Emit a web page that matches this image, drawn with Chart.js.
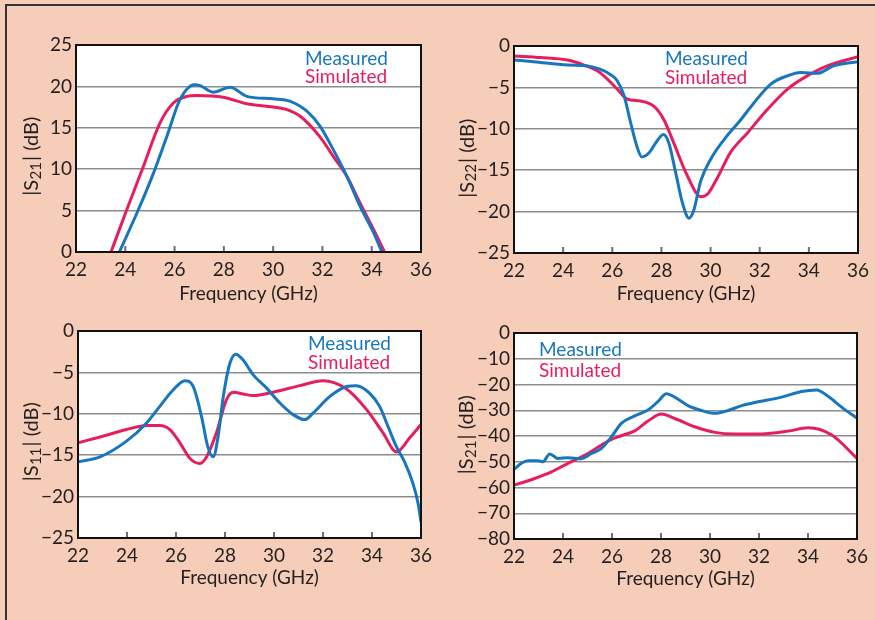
<!DOCTYPE html>
<html>
<head>
<meta charset="utf-8">
<script src="https://cdn.jsdelivr.net/npm/chart.js@4.4.1/dist/chart.umd.min.js"></script>
<style>
  html, body { margin: 0; padding: 0; overflow: hidden; }
  body { width: 875px; height: 620px; position: relative; background: #f5cdb9; }
  .rule { position: absolute; background: #333; }
  .cell { position: absolute; }
</style>
</head>
<body>
<div class="rule" style="left:5px;top:4px;width:870px;height:2px"></div>
<div class="rule" style="left:5px;top:4px;width:2px;height:616px"></div>
<div class="cell" style="left:8px;top:6px"><canvas id="c1" width="429" height="304"></canvas></div>
<div class="cell" style="left:437px;top:6px"><canvas id="c2" width="438" height="304"></canvas></div>
<div class="cell" style="left:8px;top:310px"><canvas id="c3" width="429" height="310"></canvas></div>
<div class="cell" style="left:437px;top:310px"><canvas id="c4" width="438" height="310"></canvas></div>
<script>
// x axis ticks (GHz), shared by all panels
const freqTicks = [22, 24, 26, 28, 30, 32, 34, 36];

// top left: |S21| gain
const s21Ticks = [0, 5, 10, 15, 20, 25];
const s21MeasFreq = [23.76, 24.53, 25.14, 25.68, 26.22, 26.8, 27.04, 27.58, 28.25, 28.93, 30.0, 30.7, 31.37, 31.9, 32.45, 33.0, 33.53, 34.08, 34.41];
const s21MeasDb   = [0, 5.1, 9.5, 13.9, 18.4, 20.2, 20.1, 19.3, 19.9, 18.8, 18.5, 18.2, 17.0, 15.2, 12.3, 9.1, 5.5, 2.3, 0];
const s21SimFreq  = [23.42, 24.06, 24.73, 25.41, 25.95, 26.5, 26.9, 27.98, 28.93, 30.0, 30.56, 31.1, 31.9, 32.45, 33.0, 33.53, 34.08, 34.52];
const s21SimDb    = [0, 5.1, 10.3, 15.6, 18.0, 18.8, 18.9, 18.7, 17.9, 17.5, 17.2, 16.4, 13.9, 11.5, 9.1, 5.9, 2.7, 0];

// top right: |S22|
const s22Ticks = [-25, -20, -15, -10, -5, 0];
const s22MeasFreq = [22, 22.8, 24.17, 24.98, 25.5, 25.9, 26.2, 26.48, 26.75, 27.0, 27.2, 27.5, 27.77, 28.08, 28.3, 28.58, 28.85, 29.12, 29.32, 29.6, 30.0, 30.55, 31.23, 31.77, 32.45, 33.13, 33.67, 34.35, 35.0, 36];
const s22MeasDb   = [-1.7, -1.9, -2.3, -2.4, -2.8, -3.4, -4.2, -6.0, -9.3, -12.1, -13.4, -12.9, -11.7, -10.7, -11.7, -15.3, -18.9, -20.8, -19.8, -16.3, -13.7, -11.3, -8.9, -6.85, -4.6, -3.6, -3.2, -3.3, -2.4, -1.9];
const s22SimFreq  = [22, 23.09, 24.17, 24.85, 25.39, 25.8, 26.2, 26.6, 27.16, 27.7, 28.1, 28.5, 29.06, 29.6, 29.87, 30.28, 30.8, 31.5, 32.3, 33.13, 33.94, 34.75, 36];
const s22SimDb    = [-1.2, -1.4, -1.7, -2.3, -3.0, -4.0, -5.2, -6.4, -6.65, -7.3, -8.9, -11.7, -15.7, -18.2, -17.9, -15.9, -12.9, -10.5, -7.7, -5.2, -3.6, -2.4, -1.3];

// bottom left: |S11|
const s11Ticks = [-25, -20, -15, -10, -5, 0];
const s11MeasFreq = [22, 22.9, 23.98, 24.8, 25.34, 25.89, 26.36, 26.7, 27.04, 27.3, 27.52, 27.72, 27.93, 28.2, 28.44, 28.74, 29.15, 29.7, 30.24, 30.78, 31.26, 31.6, 32.28, 32.96, 33.36, 33.9, 34.31, 34.65, 35.0, 35.33, 35.67, 35.88, 36];
const s11MeasDb   = [-15.8, -15.2, -13.3, -11.1, -9.1, -7.1, -6.0, -6.7, -10.3, -14.0, -15.2, -12.7, -7.9, -3.9, -2.8, -3.5, -5.3, -6.9, -8.7, -10.1, -10.7, -9.9, -7.9, -6.7, -6.6, -7.5, -9.1, -11.5, -14.0, -15.8, -18.4, -20.8, -23.1];
const s11SimFreq  = [22, 22.9, 23.98, 24.8, 25.34, 25.75, 26.16, 26.57, 26.98, 27.25, 27.65, 28.06, 28.33, 28.74, 29.15, 29.96, 31.05, 32.0, 32.96, 33.78, 34.45, 35.0, 35.54, 36];
const s11SimDb    = [-13.5, -12.8, -11.9, -11.4, -11.4, -11.9, -13.5, -15.4, -16.0, -15.2, -12.3, -8.3, -7.4, -7.6, -7.8, -7.4, -6.6, -6.0, -7.0, -9.5, -12.3, -14.6, -12.9, -11.3];

// bottom right: |S21| isolation
const isoTicks = [-80, -70, -60, -50, -40, -30, -20, -10, 0];
const isoMeasFreq = [22, 22.3, 22.57, 22.98, 23.18, 23.46, 23.8, 24.2, 24.75, 25.16, 25.57, 25.98, 26.38, 26.93, 27.47, 27.88, 28.22, 28.56, 29.1, 29.65, 30.2, 30.74, 31.29, 31.83, 32.92, 33.74, 34.35, 34.83, 35.37, 36];
const isoMeasDb   = [-53, -50.6, -49.6, -49.6, -50, -47, -48.7, -48.4, -48.8, -46.8, -44.8, -40.3, -35.1, -32.2, -29.9, -26.6, -23.6, -24.9, -28.2, -30.1, -31.2, -30.1, -28.2, -27.0, -24.9, -22.7, -22.1, -24.7, -28.8, -33.1];
const isoSimFreq  = [22, 22.84, 23.53, 24.2, 25.02, 25.57, 25.98, 26.38, 26.93, 27.47, 28.02, 28.56, 29.38, 30.2, 31.0, 32.1, 33.2, 34.0, 34.97, 36];
const isoSimDb    = [-59.1, -56.5, -53.9, -50.6, -46.8, -43.5, -41.3, -39.9, -38.0, -34.2, -31.5, -33.2, -36.4, -38.6, -39.2, -39.2, -38.1, -36.8, -39.6, -48.7];

const BLUE = '#1776bd';
const PINK = '#e61e5f';
const INK = '#231f20';
const FONT = 'Lato';
const TICK_SIZE = 19;

const pts = (xs, ys) => xs.map((x, i) => ({ x: x, y: ys[i] }));

// white plot box, black frame, inner x tick marks, coloured text legend, y title with subscript
const panelDecor = {
  id: 'panelDecor',
  beforeDraw(chart) {
    const a = chart.chartArea, ctx = chart.ctx;
    ctx.save();
    ctx.fillStyle = '#fff';
    ctx.fillRect(a.left, a.top, a.right - a.left, a.bottom - a.top);
    ctx.restore();
  },
  afterDraw(chart, args, opts) {
    const a = chart.chartArea, ctx = chart.ctx, xs = chart.scales.x;
    ctx.save();
    ctx.strokeStyle = '#6f6f6f';
    ctx.lineWidth = 2;
    xs.ticks.forEach(t => {
      if (t.value === xs.min || t.value === xs.max) return;
      const px = xs.getPixelForValue(t.value);
      ctx.beginPath();
      ctx.moveTo(px, a.bottom);
      ctx.lineTo(px, a.bottom - 6);
      ctx.stroke();
    });
    ctx.strokeStyle = '#111';
    ctx.lineWidth = 2;
    ctx.strokeRect(a.left, a.top, a.right - a.left, a.bottom - a.top);

    ctx.font = '19px ' + FONT;
    ctx.textAlign = 'left';
    ctx.textBaseline = 'alphabetic';
    chart.data.datasets.forEach((d, i) => {
      ctx.fillStyle = d.borderColor;
      ctx.fillText(d.label, a.left + opts.legendX, a.top + opts.legendY[i]);
    });

    const p = opts.yTitle;
    const big = '20px ' + FONT, small = '15px ' + FONT;
    ctx.font = big;
    const w1 = ctx.measureText(p[0]).width, w3 = ctx.measureText(p[2]).width;
    ctx.font = small;
    const w2 = ctx.measureText(p[1]).width + 1;
    ctx.translate(a.left - opts.titleDx, (a.top + a.bottom) / 2 + opts.titleDy);
    ctx.rotate(-Math.PI / 2);
    ctx.fillStyle = INK;
    ctx.textBaseline = 'middle';
    let x = -(w1 + w2 + w3) / 2;
    ctx.font = big;   ctx.fillText(p[0], x, 0); x += w1 + 0.5;
    ctx.font = small; ctx.fillText(p[1], x, 4); x += w2;
    ctx.font = big;   ctx.fillText(p[2], x, 0);
    ctx.restore();
  }
};

function panel(id, cfg) {
  new Chart(document.getElementById(id), {
    type: 'line',
    data: {
      datasets: [
        { label: 'Measured', data: pts(cfg.measF, cfg.measY), borderColor: BLUE },
        { label: 'Simulated', data: pts(cfg.simF, cfg.simY), borderColor: PINK }
      ]
    },
    options: {
      responsive: false,
      animation: false,
      events: [],
      layout: { padding: { left: 0, top: cfg.padTop, right: cfg.padRight, bottom: 0 } },
      elements: {
        point: { radius: 0 },
        line: { borderWidth: 3, cubicInterpolationMode: 'monotone', fill: false }
      },
      scales: {
        x: {
          type: 'linear',
          min: 22,
          max: 36,
          afterBuildTicks: s => { s.ticks = freqTicks.map(v => ({ value: v })); },
          afterFit: s => { s.height = cfg.xH; },
          grid: { display: false },
          border: { display: false },
          ticks: { color: INK, font: { family: FONT, size: TICK_SIZE }, padding: -2, maxRotation: 0, autoSkip: false },
          title: {
            display: true,
            text: 'Frequency (GHz)',
            color: INK,
            font: { family: FONT, size: 19, lineHeight: 1.2 },
            padding: { top: 0, bottom: cfg.titlePad }
          }
        },
        y: {
          min: cfg.yTicks[0],
          max: cfg.yTicks[cfg.yTicks.length - 1],
          afterBuildTicks: s => { s.ticks = cfg.yTicks.map(v => ({ value: v })); },
          afterFit: s => { s.width = cfg.yW; },
          grid: { color: '#8c8c8c', lineWidth: 1.5, drawTicks: false },
          border: { display: false },
          ticks: {
            color: INK,
            font: { family: FONT, size: TICK_SIZE },
            padding: 4,
            autoSkip: false,
            callback: v => String(v).replace('-', '\u2212')
          }
        }
      },
      plugins: {
        legend: { display: false },
        tooltip: { enabled: false },
        panelDecor: {
          legendX: cfg.legendX,
          legendY: cfg.legendY,
          yTitle: cfg.yTitle,
          titleDx: cfg.titleDx,
          titleDy: cfg.titleDy
        }
      }
    },
    plugins: [panelDecor]
  });
}

panel('c1', {
  measF: s21MeasFreq, measY: s21MeasDb, simF: s21SimFreq, simY: s21SimDb, yTicks: s21Ticks,
  yW: 68, padTop: 39, padRight: 16, xH: 58, titlePad: 5,
  legendX: 229, legendY: [20, 38.3], yTitle: ['|S', '21', '| (dB)'], titleDx: 44, titleDy: 8
});
panel('c2', {
  measF: s22MeasFreq, measY: s22MeasDb, simF: s22SimFreq, simY: s22SimDb, yTicks: s22Ticks,
  yW: 77, padTop: 40, padRight: 17, xH: 57, titlePad: 5,
  legendX: 151, legendY: [19, 37.5], yTitle: ['|S', '22', '| (dB)'], titleDx: 46.5, titleDy: 9
});
panel('c3', {
  measF: s11MeasFreq, measY: s11MeasDb, simF: s11SimFreq, simY: s11SimDb, yTicks: s11Ticks,
  yW: 70, padTop: 21, padRight: 16, xH: 82, titlePad: 31,
  legendX: 230, legendY: [19, 38.3], yTitle: ['|S', '11', '| (dB)'], titleDx: 46, titleDy: 7.5
});
panel('c4', {
  measF: isoMeasFreq, measY: isoMeasDb, simF: isoSimFreq, simY: isoSimDb, yTicks: isoTicks,
  yW: 77, padTop: 23, padRight: 18, xH: 81, titlePad: 30,
  legendX: 25, legendY: [23, 43.7], yTitle: ['|S', '21', '| (dB)'], titleDx: 47, titleDy: -1
});
</script>
</body>
</html>
